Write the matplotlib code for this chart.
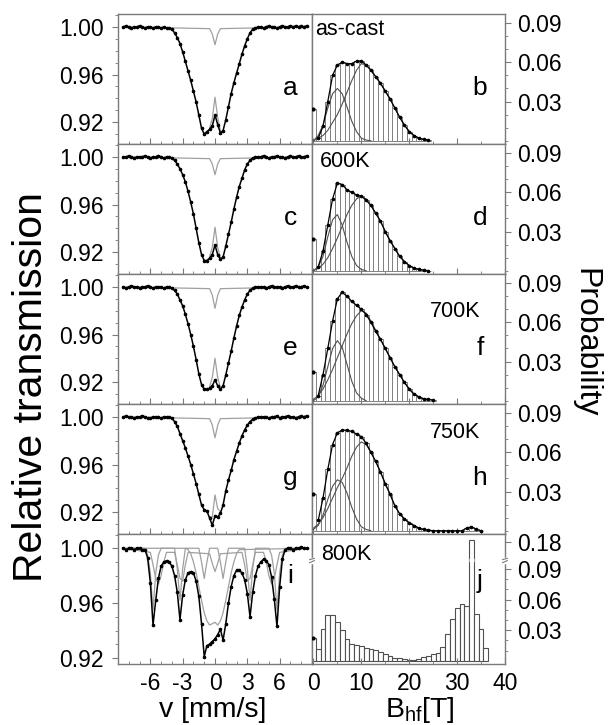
import numpy as np
import matplotlib
matplotlib.use("Agg")
import matplotlib.pyplot as plt
from matplotlib.ticker import MultipleLocator, FixedLocator, FormatStrFormatter
from matplotlib.transforms import blended_transform_factory

plt.rcParams["font.family"] = ["Liberation Sans", "DejaVu Sans"]
plt.rcParams["mathtext.fontset"] = "custom"
plt.rcParams["mathtext.rm"] = "Liberation Sans"
plt.rcParams["mathtext.default"] = "regular"
plt.rcParams["axes.unicode_minus"] = False

# ---------------- Moessbauer spectra (relative transmission) ----------------
# sampled on a 0.25 mm/s velocity grid from -8.5 to 8.5 mm/s
velocity = np.arange(-8.5, 8.51, 0.25)

spec_a = ([1.000, 1.001, 1.000, 0.999, 1.000, 1.000, 1.001, 1.000, 0.999,
           1.000, 1.000, 0.999, 1.000, 1.000, 0.999, 1.000, 0.999, 0.999]
          + [0.998, 0.995, 0.991, 0.986, 0.979, 0.971, 0.963, 0.955, 0.946, 0.937,
             0.926, 0.915, 0.910, 0.912, 0.914, 0.917, 0.926, 0.918, 0.911, 0.913,
             0.922, 0.933, 0.944, 0.953, 0.961, 0.969, 0.977, 0.984, 0.990, 0.995,
             0.998, 0.999, 1.000]
          + [1.000, 0.999, 1.000, 1.001, 1.000, 1.000, 0.999, 1.000, 1.001,
             1.000, 1.000, 1.001, 1.000, 1.001, 1.000, 1.001, 1.000, 1.001])
spec_c = ([1.000, 1.000, 1.001, 1.000, 0.999, 1.000, 1.000, 1.000, 1.001,
           1.000, 0.999, 1.000, 1.000, 1.001, 1.000, 0.999, 1.000, 1.000]
          + [0.999, 0.997, 0.994, 0.990, 0.985, 0.979, 0.971, 0.962, 0.952, 0.940,
             0.928, 0.918, 0.913, 0.913, 0.915, 0.918, 0.926, 0.918, 0.914, 0.916,
             0.925, 0.935, 0.945, 0.956, 0.966, 0.975, 0.982, 0.989, 0.994, 0.997,
             0.999, 1.000, 1.000]
          + [1.000, 1.001, 1.000, 0.999, 1.000, 1.000, 1.001, 1.000, 1.000,
             0.999, 1.000, 1.001, 1.000, 1.000, 1.001, 1.000, 1.000, 1.001])
spec_e = ([1.000, 0.999, 1.000, 1.001, 1.000, 1.000, 0.999, 1.000, 1.000,
           1.001, 1.000, 0.999, 1.000, 1.000, 1.000, 0.999, 1.000, 1.000]
          + [0.999, 0.997, 0.994, 0.989, 0.984, 0.977, 0.969, 0.960, 0.950, 0.939,
             0.927, 0.918, 0.914, 0.914, 0.915, 0.917, 0.922, 0.917, 0.914, 0.917,
             0.926, 0.936, 0.946, 0.957, 0.967, 0.976, 0.983, 0.989, 0.994, 0.997,
             0.999, 1.000, 1.000]
          + [1.000, 1.000, 0.999, 1.000, 1.001, 1.000, 1.000, 1.000, 0.999,
             1.000, 1.001, 1.000, 1.000, 1.001, 1.000, 1.000, 1.001, 1.000])
spec_g = ([1.000, 1.001, 1.000, 1.000, 0.999, 1.000, 1.000, 1.001, 1.000,
           0.999, 0.999, 1.000, 1.000, 1.000, 0.999, 1.000, 1.000, 1.000]
          + [0.999, 0.996, 0.992, 0.986, 0.980, 0.974, 0.967, 0.960, 0.952, 0.944,
             0.935, 0.926, 0.922, 0.921, 0.915, 0.909, 0.917, 0.916, 0.919, 0.926,
             0.938, 0.947, 0.955, 0.964, 0.971, 0.978, 0.984, 0.989, 0.993, 0.996,
             0.998, 0.999, 1.000]
          + [1.000, 1.000, 1.000, 0.999, 1.000, 1.000, 1.001, 0.999, 1.000,
             1.000, 1.001, 1.000, 1.000, 0.999, 1.000, 1.001, 1.000, 1.001])
spec_i = ([1.000, 0.999, 1.000, 1.000, 0.999, 1.000, 1.000, 0.999]
          + [0.999, 0.993, 0.975, 0.944, 0.962, 0.978, 0.987, 0.990, 0.991, 0.990,
             0.987, 0.980, 0.968, 0.948, 0.966, 0.977, 0.982, 0.983, 0.982, 0.976,
             0.965, 0.945, 0.921, 0.929, 0.930, 0.932, 0.934, 0.937, 0.941, 0.933,
             0.945, 0.960, 0.972, 0.980, 0.984, 0.984, 0.982, 0.977, 0.967, 0.950,
             0.968, 0.980, 0.987, 0.990, 0.992, 0.991, 0.988, 0.979, 0.963, 0.943,
             0.972, 0.992, 0.999]
          + [1.000, 1.000, 0.999, 1.000, 1.000, 1.001, 1.000, 1.000])

# central singlet sub-spectrum (a-g)
sing_v = [-8.5, -0.5, -0.25, 0.0, 0.25, 0.5, 8.5]
sing_a = [1.0, 0.9985, 0.994, 0.985, 0.994, 0.9985, 1.0]
sing_c = [1.0, 0.9985, 0.994, 0.985, 0.994, 0.9985, 1.0]
sing_e = [1.0, 0.9985, 0.993, 0.982, 0.993, 0.9985, 1.0]
sing_g = [1.0, 0.9985, 0.993, 0.9825, 0.993, 0.9985, 1.0]

# sub-spectra of the 800K sample
sext1_v = [-8.5, -6.5, -6.25, -6.0, -5.75, -5.5, -5.25, -5.0,
           -3.75, -3.5, -3.25, -3.0, -2.75,
           -1.5, -1.25, -1.0, -0.75, -0.5,
           0.25, 0.5, 0.75, 1.0, 1.25,
           2.75, 3.0, 3.25, 3.5, 3.75,
           5.0, 5.25, 5.5, 5.75, 6.0, 6.25, 6.5, 8.5]
sext1_y = [1.0, 1.0, 0.995, 0.982, 0.955, 0.982, 0.995, 1.0,
           1.0, 0.985, 0.962, 0.985, 1.0,
           1.0, 0.990, 0.978, 0.990, 1.0,
           1.0, 0.990, 0.978, 0.990, 1.0,
           1.0, 0.985, 0.962, 0.985, 1.0,
           1.0, 0.995, 0.982, 0.955, 0.982, 0.995, 1.0, 1.0]
sext2_v = [-8.5, -6.0, -5.75, -5.5, -5.25, -5.0, -4.75, -4.5,
           -3.75, -3.5, -3.25, -3.0, -2.75, -2.5,
           -0.5, -0.25, 0.0, 0.25, 0.5,
           2.5, 2.75, 3.0, 3.25, 3.5, 3.75,
           4.5, 4.75, 5.0, 5.25, 5.5, 5.75, 6.0, 8.5]
sext2_y = [1.0, 0.997, 0.988, 0.978, 0.974, 0.980, 0.990, 0.997,
           0.997, 0.988, 0.978, 0.976, 0.988, 0.997,
           0.996, 0.989, 0.983, 0.989, 0.996,
           0.997, 0.988, 0.976, 0.978, 0.988, 0.997,
           0.997, 0.990, 0.980, 0.974, 0.978, 0.988, 0.997, 1.0]
cent_v = [-8.5, -2.75, -2.5, -2.25, -2.0, -1.75, -1.5, -1.25, -1.0, -0.75, -0.5,
          -0.25, 0.0, 0.25, 0.5, 0.75, 1.0, 1.25, 1.5, 1.75, 2.0, 2.25, 8.5]
cent_y = [1.0, 1.0, 0.999, 0.996, 0.990, 0.982, 0.972, 0.962, 0.953, 0.947, 0.944,
          0.945, 0.946, 0.944, 0.947, 0.953, 0.962, 0.972, 0.982, 0.990, 0.996, 0.999, 1.0]

# ---------------- hyperfine field distributions, 1 T bins from 0 T ----------------
hist_b = [0.024, 0.002, 0.011, 0.030, 0.050, 0.058, 0.060, 0.059, 0.059, 0.061,
          0.061, 0.058, 0.054, 0.049, 0.044, 0.038, 0.032, 0.025, 0.018, 0.012,
          0.007, 0.004, 0.002, 0.001, 0.0005]
comp1_b = [0.0, 0.004, 0.012, 0.025, 0.036, 0.040, 0.036, 0.026, 0.015, 0.007, 0.002, 0.0005, 0.0]
comp2_b = [0.0, 0.002, 0.004, 0.008, 0.014, 0.020, 0.028, 0.037, 0.046, 0.054, 0.059,
           0.058, 0.054, 0.049, 0.044, 0.038, 0.032, 0.025, 0.018, 0.012, 0.007,
           0.004, 0.002, 0.001, 0.0]

hist_d = [0.024, 0.003, 0.015, 0.035, 0.055, 0.067, 0.066, 0.062, 0.060, 0.058,
          0.057, 0.054, 0.050, 0.044, 0.038, 0.030, 0.023, 0.017, 0.011, 0.007,
          0.004, 0.002, 0.001, 0.0005, 0.0]
comp1_d = [0.0, 0.003, 0.011, 0.026, 0.039, 0.043, 0.035, 0.022, 0.011, 0.004, 0.001, 0.0]
comp2_d = [0.0, 0.002, 0.005, 0.010, 0.017, 0.025, 0.034, 0.043, 0.050, 0.055, 0.057,
           0.055, 0.050, 0.044, 0.038, 0.030, 0.023, 0.017, 0.011, 0.007, 0.004,
           0.002, 0.001, 0.0]

hist_f = [0.022, 0.004, 0.020, 0.040, 0.061, 0.078, 0.083, 0.080, 0.076, 0.073,
          0.070, 0.066, 0.060, 0.053, 0.047, 0.040, 0.033, 0.026, 0.020, 0.014,
          0.009, 0.005, 0.003, 0.0015, 0.001, 0.0005]
comp1_f = [0.0, 0.003, 0.012, 0.026, 0.040, 0.046, 0.041, 0.028, 0.015, 0.006, 0.002, 0.0]
comp2_f = [0.001, 0.004, 0.009, 0.016, 0.024, 0.033, 0.042, 0.051, 0.059, 0.065, 0.069,
           0.067, 0.061, 0.054, 0.047, 0.040, 0.033, 0.026, 0.020, 0.014, 0.009,
           0.005, 0.003, 0.0015, 0.001]

hist_h = [0.028, 0.008, 0.025, 0.047, 0.066, 0.075, 0.077, 0.077, 0.076, 0.074,
          0.072, 0.067, 0.060, 0.053, 0.045, 0.036, 0.028, 0.019, 0.013, 0.009,
          0.006, 0.004, 0.002, 0.001, 0.0005, 0.0, 0.0, 0.0, 0.0, 0.0,
          0.0, 0.0, 0.002, 0.003, 0.001, 0.0]
comp1_h = [0.001, 0.004, 0.012, 0.024, 0.034, 0.039, 0.037, 0.029, 0.018, 0.009, 0.003, 0.001, 0.0]
comp2_h = [0.002, 0.005, 0.010, 0.017, 0.025, 0.033, 0.040, 0.048, 0.057, 0.064, 0.068,
           0.066, 0.060, 0.053, 0.045, 0.036, 0.028, 0.019, 0.013, 0.009, 0.006,
           0.004, 0.002, 0.001, 0.0]

hist_j = [0.022, 0.012, 0.031, 0.045, 0.045, 0.038, 0.030, 0.021, 0.017, 0.016,
          0.015, 0.013, 0.012, 0.011, 0.009, 0.007, 0.005, 0.003, 0.0025, 0.0015,
          0.001, 0.001, 0.002, 0.0035, 0.005, 0.007, 0.008, 0.014, 0.026, 0.041,
          0.052, 0.056, 0.054, 0.190, 0.046, 0.031, 0.013]

left_letters = ["a", "c", "e", "g", "i"]
right_letters = ["b", "d", "f", "h", "j"]
temperatures = ["as-cast", "600K", "700K", "750K", "800K"]

# ---------------- layout ----------------
W, H = 608, 725
fig = plt.figure(figsize=(W / 100, H / 100), dpi=100)


def box(x0, x1, y0, y1):
    return [x0 / W, 1 - y1 / H, (x1 - x0) / W, (y1 - y0) / H]


x_left, x_mid, x_right = 118, 312, 505
row_top = [14, 144, 274, 404, 534]
row_h = 130
spine_col = "#7a7a7a"
comp_col = "#a0a0a0"
tick_fs = 16.5
temp_pos = [(0.018, 0.88), (0.04, 0.865), (0.61, 0.71), (0.61, 0.78), (0.045, 0.84)]

spectra = [spec_a, spec_c, spec_e, spec_g]
singlets = [sing_a, sing_c, sing_e, sing_g]
hists = [hist_b, hist_d, hist_f, hist_h]
comps = [(comp1_b, comp2_b), (comp1_d, comp2_d), (comp1_f, comp2_f), (comp1_h, comp2_h)]

# compressed part of the 800K probability axis (above the break)
BREAK, SQUEEZE = 0.1, 0.2


def fwd(y):
    y = np.asarray(y, dtype=float)
    return np.where(y <= BREAK, y, BREAK + (y - BREAK) * SQUEEZE)


def inv(y):
    y = np.asarray(y, dtype=float)
    return np.where(y <= BREAK, y, BREAK + (y - BREAK) / SQUEEZE)


def style(ax):
    for s in ax.spines.values():
        s.set_color(spine_col)
        s.set_linewidth(1.0)
    ax.tick_params(which="both", colors=spine_col, labelcolor="black", labelsize=tick_fs)


for r in range(5):
    axL = fig.add_axes(box(x_left, x_mid, row_top[r], row_top[r] + row_h))
    axR = fig.add_axes(box(x_mid, x_right, row_top[r], row_top[r] + row_h))
    style(axL)
    style(axR)

    # ---- left: spectra ----
    if r < 4:
        spec = np.array(spectra[r])
        sing = np.array(singlets[r])
        axL.plot(sing_v, sing, color=comp_col, lw=0.9, zorder=2)
        broad = spec[32:37] + (1 - sing[1:-1])
        axL.plot(velocity[32:37], broad, color=comp_col, lw=0.9, zorder=2)
        axL.set_ylim(0.9017, 1.0108)
    else:
        spec = np.array(spec_i)
        for cv, cy in [(sext1_v, sext1_y), (sext2_v, sext2_y), (cent_v, cent_y)]:
            axL.plot(cv, cy, color=comp_col, lw=0.9, zorder=2)
        axL.set_ylim(0.9156, 1.0104)
    axL.plot(velocity, spec, color="black", lw=1.1, marker="o", ms=1.6,
             mec="black", mfc="black", zorder=3)
    axL.set_xlim(-9, 9)
    axL.yaxis.set_major_locator(MultipleLocator(0.04))
    axL.yaxis.set_minor_locator(MultipleLocator(0.01))
    axL.yaxis.set_major_formatter(FormatStrFormatter("%.2f"))
    axL.xaxis.set_major_locator(FixedLocator([-6, -3, 0, 3, 6]))
    axL.xaxis.set_minor_locator(MultipleLocator(1))
    axL.tick_params(axis="y", which="major", direction="out", length=4, pad=6)
    axL.tick_params(axis="y", which="minor", direction="out", length=2)
    axL.tick_params(axis="x", which="major", direction="in", length=4, pad=6)
    axL.tick_params(axis="x", which="minor", direction="in", length=2)
    if r < 4:
        axL.tick_params(axis="x", labelbottom=False)
    axL.text(0.89, 0.68 if r == 4 else 0.43, left_letters[r], transform=axL.transAxes,
             fontsize=19, ha="center", va="center")

    # ---- right: field distributions ----
    if r < 4:
        hist = np.array(hists[r])
        B = np.arange(len(hist))
        axR.bar(B, hist, width=1.0, color="white", edgecolor="#808080", lw=0.7, zorder=1)
        axR.plot(B[1:], hist[1:], color="black", lw=0.9, marker="o", ms=1.6, zorder=4)
        axR.plot(B[:1], hist[:1], "o", color="black", ms=2.0, zorder=4)
        for c in comps[r]:
            axR.plot(np.arange(len(c)), c, color="#505050", lw=0.8, zorder=3)
        axR.set_ylim(-0.0025, 0.097)
        axR.yaxis.set_major_locator(FixedLocator([0.03, 0.06, 0.09]))
        axR.yaxis.set_minor_locator(MultipleLocator(0.01))
        axR.tick_params(axis="x", labelbottom=False)
    else:
        axR.set_yscale("function", functions=(fwd, inv))
        B = np.arange(len(hist_j))
        axR.bar(B, hist_j, width=1.0, color="white", edgecolor="#505050", lw=0.8, zorder=1)
        axR.plot(B[:1], hist_j[:1], "o", color="black", ms=2.0, zorder=4)
        axR.set_ylim(-0.003, 0.22)
        axR.yaxis.set_major_locator(FixedLocator([0.03, 0.06, 0.09, 0.18]))
        axR.yaxis.set_minor_locator(FixedLocator([0.01, 0.02, 0.04, 0.05, 0.07, 0.08]))
        # axis break
        yb = 0.0985
        axR.plot([32.45, 33.55], [yb, yb], color="white", lw=2.5, zorder=5,
                 solid_capstyle="butt")
        blend = blended_transform_factory(axR.transAxes, axR.transData)
        for xs in (0.0, 1.0):
            axR.plot([xs, xs], [yb - 0.0015, yb + 0.0015], color="white", lw=2.5,
                     transform=blend, clip_on=False, zorder=6)
            for dy in (-0.0015, 0.0015):
                axR.plot([xs - 0.012, xs + 0.012], [yb + dy - 0.001, yb + dy + 0.001],
                         color=spine_col, lw=0.8, transform=blend, clip_on=False, zorder=7)
    axR.set_xlim(-0.3, 40)
    axR.yaxis.set_major_formatter(FormatStrFormatter("%.2f"))
    axR.xaxis.set_major_locator(MultipleLocator(10))
    axR.xaxis.set_minor_locator(MultipleLocator(5))
    axR.tick_params(axis="y", which="both", left=False, labelleft=False,
                    right=True, labelright=True)
    axR.tick_params(axis="y", which="major", direction="out", length=4, pad=5)
    axR.tick_params(axis="y", which="minor", direction="out", length=2)
    axR.tick_params(axis="x", which="major", direction="in", length=4, pad=6)
    axR.tick_params(axis="x", which="minor", direction="in", length=2)
    axR.text(0.87, 0.64 if r == 4 else 0.43, right_letters[r], transform=axR.transAxes,
             fontsize=19, ha="center", va="center")
    tx, ty = temp_pos[r]
    axR.text(tx, ty, temperatures[r], transform=axR.transAxes, fontsize=15.5,
             ha="left", va="center")

fig.text(31 / W, 1 - 387 / H, "Relative transmission", rotation=90,
         ha="center", va="center", fontsize=29.5)
fig.text(585 / W, 1 - 343 / H, "Probability", rotation=-90,
         ha="center", va="center", fontsize=23)
fig.text(213 / W, 1 - 710 / H, "v [mm/s]", ha="center", va="center", fontsize=20.5)
fig.text(420 / W, 1 - 710 / H, r"B$_{hf}$[T]", ha="center", va="center", fontsize=20.5)

fig.savefig("out.png", dpi=100)
